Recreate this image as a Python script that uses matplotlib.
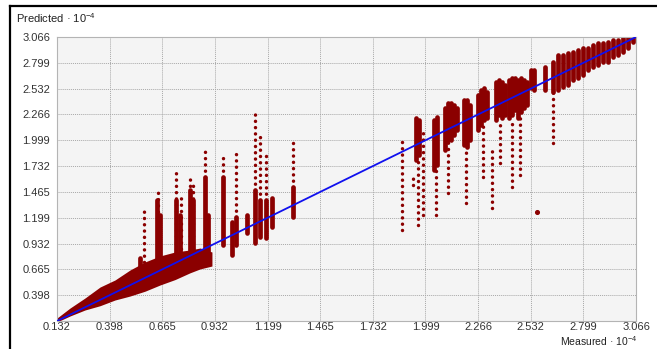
import matplotlib
matplotlib.use("Agg")
import matplotlib.pyplot as plt

plt.rcParams['font.family'] = ['Liberation Sans', 'DejaVu Sans']
plt.rcParams['mathtext.default'] = 'regular'

# tick values (x 10^-4)
ticks = [0.132, 0.398, 0.665, 0.932, 1.199, 1.465, 1.732, 1.999, 2.266, 2.532, 2.799, 3.066]

# dense lower-left band of points (measured, predicted low/high)
band_x = [0.132, 0.198, 0.274, 0.350, 0.426, 0.502, 0.578, 0.654, 0.730, 0.806, 0.857, 0.917]
band_lo = [0.122, 0.184, 0.246, 0.290, 0.349, 0.390, 0.440, 0.504, 0.560, 0.630, 0.670, 0.700]
band_hi = [0.163, 0.266, 0.370, 0.483, 0.556, 0.659, 0.742, 0.804, 0.845, 0.866, 0.886, 0.845]

# dense columns of points
dense_x = [0.553, 0.639, 0.654, 0.735, 0.755, 0.806, 0.821, 0.882, 0.897,
           0.973, 1.019, 1.039, 1.095, 1.135, 1.161, 1.191, 1.221, 1.328,
           1.951, 1.966, 2.042, 2.057, 2.098, 2.113, 2.128, 2.144, 2.159,
           2.194, 2.209, 2.225, 2.265, 2.280, 2.296, 2.311,
           2.356, 2.372, 2.387, 2.402, 2.422, 2.437, 2.453, 2.468, 2.483, 2.498, 2.513, 2.534, 2.549,
           2.605, 2.645, 2.671, 2.696, 2.721, 2.747, 2.772, 2.797, 2.823, 2.848, 2.873, 2.899,
           2.924, 2.949, 2.975, 3.000, 3.025, 3.051]
dense_lo = [0.620, 0.742, 0.742, 0.814, 0.814, 0.814, 0.814, 0.742, 0.742,
            0.917, 0.814, 0.917, 1.041, 0.938, 1.000, 0.989, 1.103, 1.206,
            1.795, 1.847, 1.692, 1.744, 1.899, 2.002, 2.002, 2.054, 2.105,
            1.950, 1.930, 2.002, 2.105, 2.157, 2.209, 2.229,
            2.209, 2.260, 2.229, 2.260, 2.229, 2.260, 2.312, 2.229, 2.291, 2.332, 2.363, 2.539, 2.518,
            2.518, 2.498, 2.518, 2.549, 2.570, 2.622, 2.642, 2.673, 2.725, 2.756, 2.777, 2.808,
            2.808, 2.859, 2.880, 2.911, 2.952, 3.014]
dense_hi = [0.780, 1.382, 1.227, 1.382, 1.227, 1.485, 1.382, 1.620, 1.227,
            1.620, 1.155, 1.206, 1.227, 1.485, 1.382, 1.382, 1.403, 1.516,
            2.229, 2.209, 2.209, 2.240, 2.332, 2.384, 2.384, 2.363, 2.332,
            2.415, 2.415, 2.363, 2.467, 2.518, 2.539, 2.498,
            2.601, 2.622, 2.601, 2.570, 2.622, 2.642, 2.642, 2.622, 2.642, 2.622, 2.601, 2.725, 2.725,
            2.756, 2.808, 2.880, 2.880, 2.901, 2.911, 2.932, 2.952, 2.952, 2.983, 3.004, 3.004,
            3.014, 3.035, 3.035, 3.056, 3.066, 3.076]

# sparse columns (spread-out predictions at one measured value)
sparse_x = [0.573, 0.644, 0.735, 0.760, 0.806, 0.821, 0.882, 0.973, 1.039, 1.135, 1.161, 1.191, 1.328,
            1.880, 1.936, 1.961, 1.987, 2.052, 2.113, 2.204, 2.291, 2.336, 2.377, 2.437, 2.478, 2.645]
sparse_lo = [0.742, 0.742, 0.814, 0.814, 0.814, 0.814, 1.620, 1.620, 1.206, 1.485, 1.382, 1.382, 1.516,
             1.072, 1.537, 1.124, 1.227, 1.227, 1.454, 1.351, 1.620, 1.299, 1.764, 1.516, 1.640, 1.971]
sparse_hi = [1.299, 1.485, 1.692, 1.454, 1.640, 1.568, 1.919, 1.878, 1.878, 2.291, 2.074, 1.899, 1.981,
             2.002, 1.640, 1.795, 2.126, 1.744, 2.002, 1.930, 2.157, 1.899, 2.209, 2.229, 2.229, 2.498]

# isolated points
single_x = [2.564]
single_y = [1.258]

# ideal fit line
fit_x = [0.132, 3.066]
fit_y = [0.132, 3.066]

pt_color = "#8b0000"

fig = plt.figure(figsize=(6.57, 3.49), dpi=100)
ax = fig.add_axes([0.0868, 0.0802, 0.8813, 0.8138])
ax.set_facecolor("#f4f4f4")

ax.fill_between(band_x, band_lo, band_hi, color=pt_color, linewidth=0, zorder=2)
ax.vlines(dense_x, dense_lo, dense_hi, colors=pt_color, linewidth=3.4, capstyle="round", zorder=2)
ax.vlines(sparse_x, sparse_lo, sparse_hi, colors=pt_color, linewidth=2.5,
          linestyles=[(0, (0.01, 1.8))], capstyle="round", zorder=2)
ax.scatter(single_x, single_y, s=7, color=pt_color, zorder=2)
ax.plot(fit_x, fit_y, color="#1010ee", linewidth=1.3, zorder=3)

ax.set_xlim(0.132, 3.066)
ax.set_ylim(0.132, 3.066)
ax.set_xticks(ticks)
ax.set_yticks(ticks)
ax.set_xticklabels(["%.3f" % t for t in ticks])
ax.set_yticklabels([""] + ["%.3f" % t for t in ticks[1:]])
ax.tick_params(length=0, labelsize=8, labelcolor="#333333")
ax.tick_params(axis="x", pad=1)
ax.tick_params(axis="y", pad=5)
ax.grid(True, color="#a8a8a8", linestyle=(0, (1, 1)), linewidth=0.7, zorder=1)
ax.set_axisbelow(True)
for s in ax.spines.values():
    s.set_color("#b4b4b4")
    s.set_linewidth(0.8)

fig.text(0.024, 0.935, "Predicted \u00b7 10$^{-4}$", fontsize=8, color="#222222")
fig.text(0.970, 0.002, "Measured \u00b7 10$^{-4}$", fontsize=7.5, color="#222222", ha="right", va="bottom")

# outer frame of the panel
fig.add_artist(plt.Line2D([0.0152, 1.0], [0.984, 0.984], transform=fig.transFigure, color="black", linewidth=1.6))
fig.add_artist(plt.Line2D([0.0152, 0.0152], [0.0, 0.984], transform=fig.transFigure, color="black", linewidth=1.6))

fig.savefig("out.png", dpi=100)
